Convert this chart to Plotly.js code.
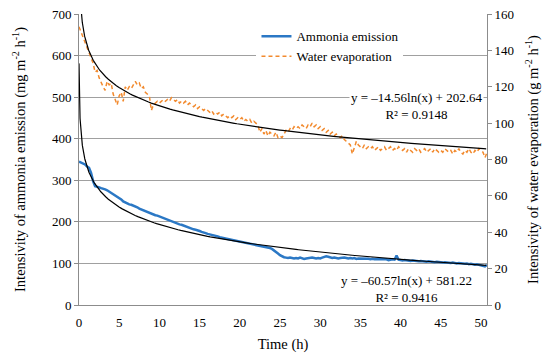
<!DOCTYPE html>
<html>
<head>
<meta charset="utf-8">
<script src="https://cdn.plot.ly/plotly-3.0.1.min.js"></script>
<style>html,body{margin:0;padding:0;background:#fff;}#chart{width:550px;height:361px;}</style>
</head>
<body>
<div id="chart"></div>
<script>
// sampling step of the readings (h)
const stepHours = 0.25;

// Ammonia emission (mg m-2 h-1), one reading every 0.25 h from t = 0
const ammonia = [
  345,343,341,338, 333,330,318,298, 286,285,283,281, 280,278,276,273,
  270,268,264,261, 258,254,249,246, 244,242,241,239, 238,235,232,230,
  228,226,223,221, 220,218,216,215, 213,212,210,207, 205,203,201,199,
  197,196,194,193, 191,189,187,186, 184,182,181,180, 178,176,175,173,
  171,170,168,167, 166,165,163,162, 160,159,158,157, 156,155,154,153,
  152,151,150,149, 148,147,146,145, 144,143,142,141, 140,139,138,137,
  135,132,128,124, 120,117,115,114, 113,114,113,112, 113,112,114,112,
  111,112,113,114, 114,113,112,113, 112,114,116,117, 116,114,113,114,
  113,112,113,114, 114,113,112,113, 112,113,111,112, 112,111,112,111,
  111,110,111,110, 110,109,110,109, 109,110,108,109, 110,109,119,109,
  108,107,108,107, 107,106,107,106, 106,105,106,105, 105,104,105,104,
  104,103,104,103, 103,102,103,102, 102,101,102,101, 100,101,100,99,
  99,100,98,99, 98,97,98,97, 96,95,93,96
];

// Water evaporation (g m-2 h-1), one reading every 0.25 h from t = 0
const water = [
  153,150,148,145, 141,138,136,133, 128,129,125,122, 120,118,123,121,
  122,116,113,110, 115,117,112,120, 118,120,119,121, 123,121,122,119,
  120,117,116,115, 107,110,111,112, 111,112,113,112, 113,112,114,113,
  112,113,111,112, 111,112,110,111, 110,109,110,108, 109,108,107,108,
  107,106,107,105, 106,105,106,104, 105,104,103,104, 103,104,102,103,
  102,103,101,102, 101,102,100,101, 100,99,95,97, 94,96,93,95,
  94,93,95,92, 93,92,94,96, 95,97,96,98, 97,98,97,99,
  98,97,99,98, 100,98,99,97, 98,96,97,95, 96,94,95,93,
  94,93,92,93, 91,90,89,88, 83,86,90,88, 87,86,88,86,
  87,86,87,85, 86,87,85,86, 87,85,86,87, 85,86,85,87,
  86,85,86,84, 86,85,84,86, 85,86,84,85, 86,84,85,86,
  84,86,85,84, 85,84,86,85, 84,85,83,85, 84,86,84,83,
  85,84,86,84, 83,85,84,86, 85,84,81,84
];

// Trendline coefficients printed on the chart: y = a*ln(x) + b, x = reading index (1 per minute)
const ammoniaFit = {a: -60.57, b: 581.22, r2: 0.9416};
const waterFit = {a: -14.56, b: 202.64, r2: 0.9148};
const readingsPerHour = 60;
const lastHour = 50.75;

const xTickLabels = [0,5,10,15,20,25,30,35,40,45,50];
const yLeftTicks = [0,100,200,300,400,500,600,700];
const yRightTicks = [0,20,40,60,80,100,120,140,160];

const tA = ammonia.map((_, i) => i * stepHours);
const tW = water.map((_, i) => i * stepHours);

function fitCurve(fit) {
  const xs = [], ys = [];
  const n = Math.round(lastHour * readingsPerHour) + 1;
  let idx = 1;
  while (idx <= n) {
    xs.push((idx - 1) / readingsPerHour);
    ys.push(fit.a * Math.log(idx) + fit.b);
    idx = idx < 40 ? idx + 0.25 : (idx < 200 ? idx + 2 : idx + 20);
  }
  return {xs, ys};
}
const fA = fitCurve(ammoniaFit);
const fW = fitCurve(waterFit);

const serif = '"Liberation Serif", "Times New Roman", Times, serif';
const gridCol = '#a0a0a0';
const axCol = '#8c8c8c';

const traces = [
  {x: tA, y: ammonia, type: 'scatter', mode: 'lines', name: 'Ammonia emission',
   line: {color: '#2b78c5', width: 2.5}, xaxis: 'x', yaxis: 'y'},
  {x: tW, y: water, type: 'scatter', mode: 'lines', name: 'Water evaporation',
   line: {color: '#f28a2e', width: 1.5, dash: '4px,3px'}, xaxis: 'x', yaxis: 'y2'},
  {x: fA.xs, y: fA.ys, type: 'scatter', mode: 'lines', showlegend: false,
   line: {color: '#000', width: 1.2}, xaxis: 'x', yaxis: 'y', hoverinfo: 'skip'},
  {x: fW.xs, y: fW.ys, type: 'scatter', mode: 'lines', showlegend: false,
   line: {color: '#000', width: 1.2}, xaxis: 'x', yaxis: 'y2', hoverinfo: 'skip'}
];

const fmt = v => (v < 0 ? '\u2013' + Math.abs(v).toFixed(2) : v.toFixed(2));

const layout = {
  width: 550, height: 361,
  margin: {l: 79, r: 63, t: 14, b: 56},
  paper_bgcolor: '#fff', plot_bgcolor: '#fff',
  font: {family: serif, size: 13, color: '#000'},
  showlegend: true,
  legend: {x: 0.435, y: 0.975, xanchor: 'left', yanchor: 'top', bgcolor: '#fff',
           font: {family: serif, size: 13}, tracegroupgap: 0},
  xaxis: {range: [0, lastHour], tickvals: xTickLabels, ticktext: xTickLabels.map(String),
          showgrid: false, zeroline: false, showline: true, linecolor: axCol, linewidth: 1,
          ticks: 'outside', ticklen: 5, tickcolor: 'rgba(0,0,0,0)',
          title: {text: 'Time (h)', font: {family: serif, size: 14.5}, standoff: 10},
          tickfont: {family: serif, size: 13}},
  xaxis2: {range: [0, lastHour], overlaying: 'x', anchor: 'y', dtick: 200 / readingsPerHour, tick0: 0,
           showticklabels: false, showgrid: false, zeroline: false, showline: false,
           ticks: 'outside', ticklen: 4, tickcolor: axCol},
  yaxis: {range: [0, 700], tickvals: yLeftTicks, showgrid: true, gridcolor: gridCol, gridwidth: 1,
          zeroline: false, showline: true, linecolor: axCol, ticks: 'outside', ticklen: 4, tickcolor: axCol,
          title: {text: 'Intensivity of ammonia emission (mg m<sup>-2</sup> h<sup>-1</sup>)', font: {family: serif, size: 14.5}, standoff: 22},
          tickfont: {family: serif, size: 13}},
  yaxis2: {range: [0, 160], tickvals: yRightTicks, overlaying: 'y', side: 'right', anchor: 'x',
           showgrid: false, zeroline: false, showline: true, linecolor: axCol, ticks: 'outside', ticklen: 4, tickcolor: axCol,
           title: {text: 'Intensivity of water evaporation (g m<sup>-2</sup> h<sup>-1</sup>)', font: {family: serif, size: 14.5}, standoff: 14},
           tickfont: {family: serif, size: 13}},
  annotations: [
    {xref: 'paper', yref: 'paper', x: 0.828, y: (305 - 105.5) / 291, xanchor: 'center', yanchor: 'middle',
     text: 'y = ' + fmt(waterFit.a) + 'ln(x) + ' + fmt(waterFit.b) + '<br>R\u00b2 = ' + waterFit.r2.toFixed(4),
     showarrow: false, bgcolor: '#fff', font: {family: serif, size: 13}, align: 'center'},
    {xref: 'paper', yref: 'paper', x: 0.803, y: (305 - 289) / 291, xanchor: 'center', yanchor: 'middle',
     text: 'y = ' + fmt(ammoniaFit.a) + 'ln(x) + ' + fmt(ammoniaFit.b) + '<br>R\u00b2 = ' + ammoniaFit.r2.toFixed(4),
     showarrow: false, font: {family: serif, size: 13}, align: 'center'}
  ]
};

Plotly.newPlot('chart', traces, layout, {staticPlot: true, displayModeBar: false});
</script>
</body>
</html>
